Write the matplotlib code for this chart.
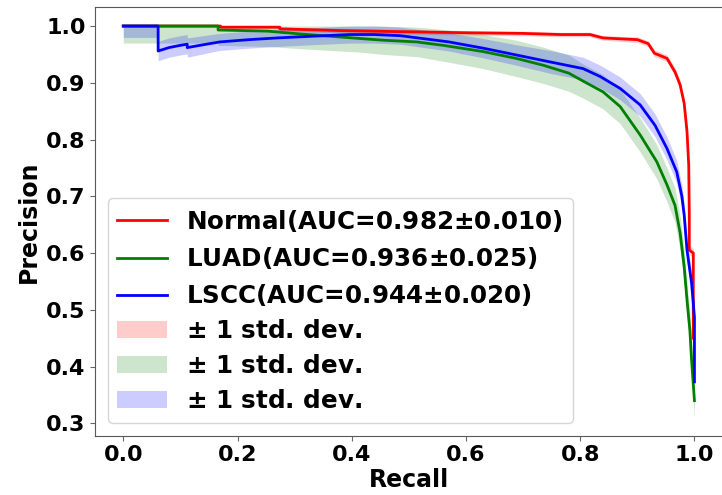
import numpy as np
import matplotlib
matplotlib.use('Agg')
import matplotlib.pyplot as plt

# mean precision-recall curves
normal_recall = [0.0, 0.17, 0.17, 0.274, 0.274, 0.38, 0.49, 0.61, 0.70, 0.765, 0.817, 0.84,
                 0.90, 0.919, 0.93, 0.952, 0.966, 0.975, 0.982, 0.987, 0.990, 0.991, 0.991,
                 0.998, 0.998]
normal_prec = [1.0, 1.0, 0.998, 0.998, 0.995, 0.992, 0.990, 0.988, 0.987, 0.985, 0.985, 0.979,
               0.976, 0.969, 0.952, 0.943, 0.919, 0.896, 0.864, 0.814, 0.755, 0.667, 0.605,
               0.600, 0.450]
normal_std = [0.0, 0.0, 0.003, 0.003, 0.003, 0.004, 0.004, 0.004, 0.004, 0.004, 0.004, 0.004,
              0.005, 0.005, 0.006, 0.006, 0.007, 0.008, 0.008, 0.008, 0.008, 0.008, 0.008,
              0.008, 0.008]

luad_recall = [0.0, 0.166, 0.166, 0.253, 0.31, 0.415, 0.455, 0.514, 0.56, 0.63, 0.688, 0.735,
               0.78, 0.805, 0.84, 0.87, 0.905, 0.934, 0.952, 0.966, 0.975, 0.982, 0.987,
               0.992, 0.995, 1.0]
luad_prec = [1.0, 1.0, 0.993, 0.991, 0.986, 0.978, 0.975, 0.972, 0.966, 0.955, 0.943, 0.931,
             0.917, 0.903, 0.884, 0.858, 0.808, 0.761, 0.720, 0.684, 0.635, 0.576, 0.517,
             0.464, 0.411, 0.340]
luad_std = [0.03, 0.03, 0.027, 0.027, 0.026, 0.024, 0.025, 0.026, 0.028, 0.030, 0.032, 0.032,
            0.032, 0.030, 0.030, 0.030, 0.030, 0.030, 0.030, 0.030, 0.030, 0.030, 0.030,
            0.030, 0.030, 0.030]

lscc_recall = [0.0, 0.061, 0.061, 0.08, 0.10, 0.112, 0.112, 0.14, 0.169, 0.22, 0.269, 0.33,
               0.397, 0.44, 0.485, 0.57, 0.63, 0.688, 0.746, 0.805, 0.835, 0.87, 0.905,
               0.931, 0.952, 0.969, 0.978, 0.982, 0.987, 0.995, 1.0, 1.0]
lscc_prec = [1.0, 1.0, 0.956, 0.962, 0.966, 0.968, 0.962, 0.967, 0.972, 0.976, 0.979, 0.982,
             0.985, 0.985, 0.983, 0.972, 0.961, 0.949, 0.937, 0.925, 0.911, 0.890, 0.861,
             0.825, 0.784, 0.743, 0.700, 0.667, 0.605, 0.547, 0.487, 0.373]
lscc_std = [0.02, 0.02, 0.017, 0.017, 0.017, 0.017, 0.017, 0.016, 0.015, 0.015, 0.015, 0.015,
            0.015, 0.015, 0.015, 0.016, 0.017, 0.018, 0.02, 0.02, 0.02, 0.02, 0.02,
            0.02, 0.02, 0.02, 0.02, 0.02, 0.02, 0.02, 0.02, 0.02]

labels = ['Normal(AUC=0.982$\\pm$0.010)', 'LUAD(AUC=0.936$\\pm$0.025)', 'LSCC(AUC=0.944$\\pm$0.020)']
colors = ['r', 'g', 'b']

plt.rcParams['font.weight'] = 'bold'

fig = plt.figure(figsize=(7.22, 4.95), dpi=100)
ax = fig.add_axes([95.3 / 722, 1 - 435.5 / 495, (723 - 95.3) / 722, (435.5 - 7.3) / 495])

curves = [(normal_recall, normal_prec, normal_std),
          (luad_recall, luad_prec, luad_std),
          (lscc_recall, lscc_prec, lscc_std)]

line_handles = []
band_handles = []
for (rec, prec, std), lab, c in zip(curves, labels, colors):
    rec = np.array(rec)
    prec = np.array(prec)
    std = np.array(std)
    ln, = ax.plot(rec, prec, color=c, lw=2, label=lab)
    upper = np.minimum(prec + std, 1.0)
    lower = np.maximum(prec - std, 0.0)
    band = ax.fill_between(rec, lower, upper, color=c, alpha=0.2, lw=0,
                           label='$\\pm$ 1 std. dev.')
    line_handles.append(ln)
    band_handles.append(band)

ax.set_xlim(-0.049, 1.05)
ax.set_ylim(0.2785, 1.033)
ax.set_xticks([0.0, 0.2, 0.4, 0.6, 0.8, 1.0])
ax.set_yticks([0.3, 0.4, 0.5, 0.6, 0.7, 0.8, 0.9, 1.0])
ax.tick_params(labelsize=16, color='0.4')
for lbl in ax.get_xticklabels() + ax.get_yticklabels():
    lbl.set_fontweight('bold')
for sp in ax.spines.values():
    sp.set_color('0.35')

ax.set_xlabel('Recall', fontsize=17, fontweight='bold', labelpad=2)
ax.set_ylabel('Precision', fontsize=17, fontweight='bold', labelpad=4)

leg = ax.legend(line_handles + band_handles,
                [h.get_label() for h in line_handles + band_handles],
                loc='lower left', prop={'size': 17.7, 'weight': 'bold'},
                labelspacing=0.45)

fig.savefig('out.png', dpi=100)
